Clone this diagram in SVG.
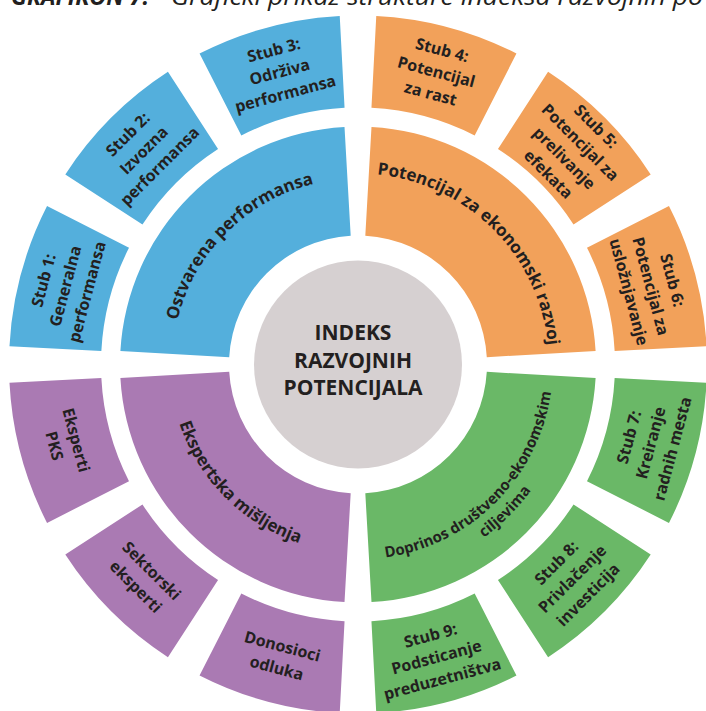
<svg xmlns="http://www.w3.org/2000/svg" width="706" height="711" viewBox="0 0 706 711">
<style>
.blue{fill:#54AFDC}
.orange{fill:#F2A15A}
.green{fill:#6AB867}
.purple{fill:#AA7AB3}
.core{fill:#D6D0D1}
text{font-family:"Open Sans","Noto Sans","DejaVu Sans",sans-serif;font-weight:700;fill:#231F20}
.stub{font-size:16px;text-anchor:middle}
.inner{font-size:17px}
.center{font-size:21px;text-anchor:middle}
.title{font-size:24px;font-style:italic;font-weight:400}
.title.bold{font-weight:700}
</style>
<defs>
<path id="outerSeg" d="M 341.374 -72.561 A 349 349 0 0 1 341.374 72.561 L 251.384 53.433 A 257 257 0 0 0 251.384 -53.433 Z"/>
<path id="innerSeg" d="M 177.555 -158.475 A 238 238 0 0 1 177.555 158.475 L 96.238 85.896 A 129 129 0 0 0 96.238 -85.896 Z"/>
<path id="arcBlue" d="M 172 364.5 A 186 186 0 0 1 358 178.5"/>
<path id="arcOrange" d="M 358 173.5 A 191 191 0 0 1 549 364.5"/>
<path id="arcPurple" d="M 170 364.5 A 188 188 0 0 0 358 552.5"/>
<path id="arcGreen1" d="M 358 559.5 A 195 195 0 0 0 553 364.5"/>
<path id="arcGreen2" d="M 358 578.5 A 214 214 0 0 0 572 364.5"/>
</defs>
<rect width="706" height="711" fill="#FFFFFF"/>
<text class="title bold" x="11" y="5" textLength="138" lengthAdjust="spacingAndGlyphs">GRAFIKON 7:</text>
<text class="title" x="171" y="5" textLength="532" lengthAdjust="spacingAndGlyphs">Grafički prikaz strukture indeksa razvojnih po</text>

<g id="connectors"/>

<g id="center">
<circle class="core" cx="358" cy="364.5" r="104"/>
<text class="center"><tspan x="353" y="340">INDEKS</tspan><tspan x="353" y="367.5">RAZVOJNIH</tspan><tspan x="353" y="395">POTENCIJALA</tspan></text>
</g>

<g id="ostvarena-performansa">
<use href="#innerSeg" class="blue" transform="translate(358,364.5) rotate(-135)"/>
<text class="inner"><textPath href="#arcBlue" startOffset="50%" text-anchor="middle">Ostvarena performansa</textPath></text>
</g>
<g id="potencijal-za-ekonomski-razvoj">
<use href="#innerSeg" class="orange" transform="translate(358,364.5) rotate(-45)"/>
<text class="inner"><textPath href="#arcOrange" startOffset="50%" text-anchor="middle">Potencijal za ekonomski razvoj</textPath></text>
</g>
<g id="doprinos">
<use href="#innerSeg" class="green" transform="translate(358,364.5) rotate(45)"/>
<text class="inner" style="font-size:15px"><textPath href="#arcGreen1" startOffset="50%" text-anchor="middle">Doprinos društveno-ekonomskim</textPath></text>
<text class="inner" style="font-size:15px"><textPath href="#arcGreen2" startOffset="50%" text-anchor="middle">ciljevima</textPath></text>
</g>
<g id="ekspertska-misljenja">
<use href="#innerSeg" class="purple" transform="translate(358,364.5) rotate(135)"/>
<text class="inner"><textPath href="#arcPurple" startOffset="50%" text-anchor="middle">Ekspertska mišljenja</textPath></text>
</g>

<g id="stub1" transform="translate(358,364.5) rotate(-165)">
<use href="#outerSeg" class="blue"/>
<text class="stub" transform="translate(303,0) rotate(90)"><tspan x="0" y="-16.9">Stub 1:</tspan><tspan x="0" y="5.6">Generalna</tspan><tspan x="0" y="28.1">performansa</tspan></text>
</g>
<g id="stub2" transform="translate(358,364.5) rotate(-135)">
<use href="#outerSeg" class="blue"/>
<text class="stub" transform="translate(303,0) rotate(90)"><tspan x="0" y="-16.9">Stub 2:</tspan><tspan x="0" y="5.6">Izvozna</tspan><tspan x="0" y="28.1">performansa</tspan></text>
</g>
<g id="stub3" transform="translate(358,364.5) rotate(-105)">
<use href="#outerSeg" class="blue"/>
<text class="stub" transform="translate(303,0) rotate(90)"><tspan x="0" y="-16.9">Stub 3:</tspan><tspan x="0" y="5.6">Održiva</tspan><tspan x="0" y="28.1">performansa</tspan></text>
</g>
<g id="stub4" transform="translate(358,364.5) rotate(-75)">
<use href="#outerSeg" class="orange"/>
<text class="stub" transform="translate(303,0) rotate(90)"><tspan x="0" y="-16.9">Stub 4:</tspan><tspan x="0" y="5.6">Potencijal</tspan><tspan x="0" y="28.1">za rast</tspan></text>
</g>
<g id="stub5" transform="translate(358,364.5) rotate(-45)">
<use href="#outerSeg" class="orange"/>
<text class="stub" transform="translate(303,0) rotate(90)"><tspan x="0" y="-28.15">Stub 5:</tspan><tspan x="0" y="-5.65">Potencijal za</tspan><tspan x="0" y="16.85">prelivanje</tspan><tspan x="0" y="39.35">efekata</tspan></text>
</g>
<g id="stub6" transform="translate(358,364.5) rotate(-15)">
<use href="#outerSeg" class="orange"/>
<text class="stub" transform="translate(303,0) rotate(90)"><tspan x="0" y="-16.9">Stub 6:</tspan><tspan x="0" y="5.6">Potencijal za</tspan><tspan x="0" y="28.1">usložnjavanje</tspan></text>
</g>
<g id="stub7" transform="translate(358,364.5) rotate(15)">
<use href="#outerSeg" class="green"/>
<text class="stub" transform="translate(303,0) rotate(-90)"><tspan x="0" y="-16.9">Stub 7:</tspan><tspan x="0" y="5.6">Kreiranje</tspan><tspan x="0" y="28.1">radnih mesta</tspan></text>
</g>
<g id="stub8" transform="translate(358,364.5) rotate(45)">
<use href="#outerSeg" class="green"/>
<text class="stub" transform="translate(303,0) rotate(-90)"><tspan x="0" y="-16.9">Stub 8:</tspan><tspan x="0" y="5.6">Privlačenje</tspan><tspan x="0" y="28.1">investicija</tspan></text>
</g>
<g id="stub9" transform="translate(358,364.5) rotate(75)">
<use href="#outerSeg" class="green"/>
<text class="stub" transform="translate(303,0) rotate(-90)"><tspan x="0" y="-16.9">Stub 9:</tspan><tspan x="0" y="5.6">Podsticanje</tspan><tspan x="0" y="28.1">preduzetništva</tspan></text>
</g>
<g id="donosioci-odluka" transform="translate(358,364.5) rotate(105)">
<use href="#outerSeg" class="purple"/>
<text class="stub" transform="translate(303,0) rotate(-90)"><tspan x="0" y="-5.65">Donosioci</tspan><tspan x="0" y="16.85">odluka</tspan></text>
</g>
<g id="sektorski-eksperti" transform="translate(358,364.5) rotate(135)">
<use href="#outerSeg" class="purple"/>
<text class="stub" transform="translate(303,0) rotate(-90)"><tspan x="0" y="-5.65">Sektorski</tspan><tspan x="0" y="16.85">eksperti</tspan></text>
</g>
<g id="eksperti-pks" transform="translate(358,364.5) rotate(165)">
<use href="#outerSeg" class="purple"/>
<text class="stub" transform="translate(303,0) rotate(-90)"><tspan x="0" y="-5.65">Eksperti</tspan><tspan x="0" y="16.85">PKS</tspan></text>
</g>
</svg>
